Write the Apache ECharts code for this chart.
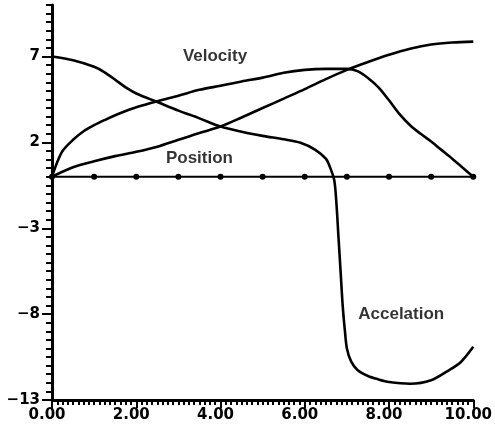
<!DOCTYPE html>
<html>
<head>
<meta charset="utf-8">
<script src="https://cdn.jsdelivr.net/npm/echarts@6/dist/echarts.min.js"></script>
<style>
html,body{margin:0;padding:0;background:#fff;}
#c{width:495px;height:430px;}
</style>
</head>
<body>
<div id="c"></div>
<script>
// ---- data ----
var accelX = [0, 0.5, 1, 1.25, 1.5, 1.75, 2, 2.5, 3, 3.5, 4, 4.5, 5, 5.5, 5.9, 6.25, 6.5, 6.6, 6.7, 6.75, 6.8, 6.85, 6.9, 6.95, 7.0, 7.1, 7.25, 7.5, 7.75, 8.0, 8.5, 9.0, 9.4, 9.7, 10];
var accelY = [7.0, 6.78, 6.4, 6.08, 5.65, 5.2, 4.85, 4.35, 3.85, 3.4, 2.92, 2.62, 2.38, 2.18, 1.98, 1.57, 1.05, 0.55, -0.2, -1.5, -3.5, -5.5, -7.5, -8.9, -10.0, -10.75, -11.25, -11.6, -11.8, -11.95, -12.05, -11.85, -11.3, -10.8, -9.9];

var velX = [0, 0.1, 0.25, 0.5, 0.75, 1, 1.25, 1.5, 1.75, 2, 2.5, 3, 3.5, 4, 4.5, 5, 5.5, 6, 6.5, 7, 7.25, 7.5, 7.75, 8.0, 8.25, 8.5, 8.75, 9.0, 9.25, 9.5, 9.75, 10];
var velY = [0, 0.7, 1.5, 2.15, 2.65, 3.0, 3.3, 3.58, 3.83, 4.05, 4.4, 4.72, 5.06, 5.3, 5.55, 5.77, 6.05, 6.22, 6.28, 6.28, 6.15, 5.75, 5.2, 4.45, 3.65, 3.0, 2.5, 2.05, 1.55, 1.05, 0.52, 0];

var posX = [0, 0.5, 1, 1.5, 2, 2.5, 3, 3.5, 4, 4.5, 5, 5.5, 6, 6.5, 7, 7.5, 8, 8.5, 9, 9.5, 10];
var posY = [0, 0.55, 0.9, 1.2, 1.45, 1.75, 2.15, 2.55, 2.92, 3.45, 4.0, 4.55, 5.1, 5.68, 6.22, 6.68, 7.1, 7.45, 7.7, 7.82, 7.87];

var baseX = [0, 1, 2, 3, 4, 5, 6, 7, 8, 9, 10];
var baseY = [0, 0, 0, 0, 0, 0, 0, 0, 0, 0, 0];

var labelNames = ['Velocity', 'Position', 'Accelation'];
var labelX = [3.87, 3.5, 8.29];
var labelY = [7.03, 1.1, -8.02];

var xTickLabels = [0, 2, 4, 6, 8, 10];
var yTickLabels = [-13, -8, -3, 2, 7];
var xMin = 0, xMax = 10, yMin = -13, yMax = 10;
var xMinorStep = 0.125, yMinorStep = 0.5;

// ---- build ----
function zip(xs, ys) { return xs.map(function (x, i) { return [x, ys[i]]; }); }
function steps(a, b, s) { var r = []; for (var v = a; v <= b + 1e-9; v += s) r.push(+v.toFixed(4)); return r; }

var ink = '#000';
var tickFont = { fontFamily: 'DejaVu Sans', fontWeight: 'bold', fontSize: 15, color: ink };

var chart = echarts.init(document.getElementById('c'), null, { renderer: 'canvas' });
chart.setOption({
  backgroundColor: '#fff',
  animation: false,
  grid: { left: 52, right: 20, top: 5, bottom: 30 },
  xAxis: [{
    type: 'value', min: xMin, max: xMax, position: 'bottom',
    axisLine: { onZero: false, lineStyle: { color: ink, width: 3 } },
    axisTick: { show: true, customValues: steps(xMin, xMax, xMinorStep), length: 5, lineStyle: { color: ink, width: 2 } },
    axisLabel: Object.assign({ customValues: xTickLabels, margin: 8, padding: [0, 10, 0, 0],
      formatter: function (v) { return v.toFixed(2); } }, tickFont),
    splitLine: { show: false }
  }, {
    type: 'value', min: xMin, max: xMax, position: 'bottom', offset: 0,
    axisLine: { show: false, onZero: false },
    axisTick: { show: true, customValues: xTickLabels, length: 8, lineStyle: { color: ink, width: 2 } },
    axisLabel: { show: false },
    splitLine: { show: false }
  }],
  yAxis: [{
    type: 'value', min: yMin, max: yMax, position: 'left',
    axisLine: { onZero: false, lineStyle: { color: ink, width: 3 } },
    axisTick: { show: true, customValues: steps(yMin, yMax, yMinorStep), length: 6, lineStyle: { color: ink, width: 2 } },
    axisLabel: Object.assign({ customValues: yTickLabels, margin: 12,
      formatter: function (v) { return String(v).replace('-', '\u2212'); } }, tickFont),
    splitLine: { show: false }
  }, {
    type: 'value', min: yMin, max: yMax, position: 'left', offset: 0,
    axisLine: { show: false, onZero: false },
    axisTick: { show: true, customValues: yTickLabels, length: 10, lineStyle: { color: ink, width: 2 } },
    axisLabel: { show: false },
    splitLine: { show: false }
  }],
  series: [{
    name: 'Accelation', type: 'line', data: zip(accelX, accelY), smooth: 0.3,
    showSymbol: false, lineStyle: { color: ink, width: 2.6 }
  }, {
    name: 'Velocity', type: 'line', data: zip(velX, velY), smooth: 0.3,
    showSymbol: false, lineStyle: { color: ink, width: 2.6 }
  }, {
    name: 'Position', type: 'line', data: zip(posX, posY), smooth: 0.3,
    showSymbol: false, lineStyle: { color: ink, width: 2.6 }
  }, {
    name: 'Zero', type: 'line', data: zip(baseX, baseY),
    symbol: 'circle', symbolSize: 6, showSymbol: true,
    itemStyle: { color: ink }, lineStyle: { color: ink, width: 2 }
  }, {
    name: 'Labels', type: 'scatter', symbolSize: 0,
    data: labelNames.map(function (n, i) { return [labelX[i], labelY[i], n]; }),
    label: { show: true, position: 'inside', formatter: function (p) { return p.value[2]; },
      fontFamily: 'Liberation Sans', fontWeight: 'bold', fontSize: 17, color: ink }
  }]
});
</script>
</body>
</html>
